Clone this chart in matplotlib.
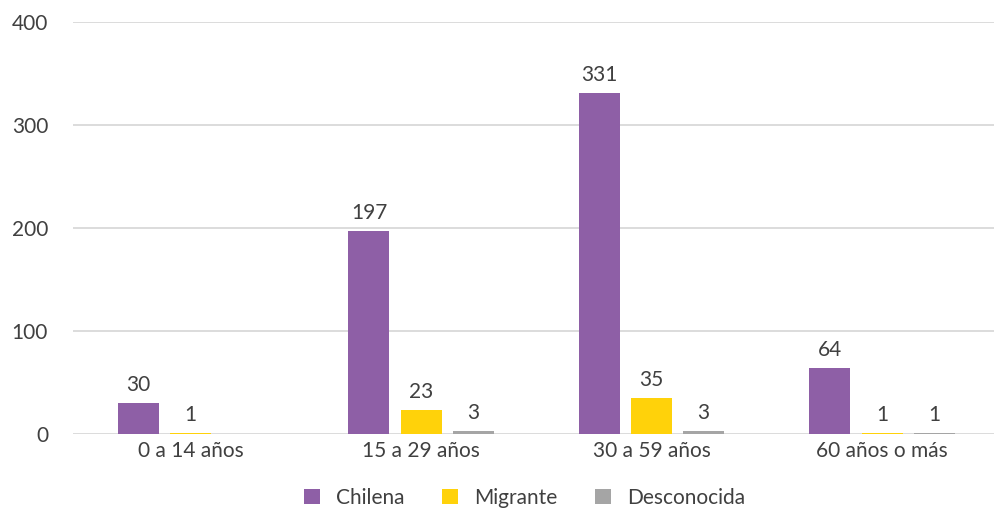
import numpy as np
import matplotlib.pyplot as plt

plt.rcParams['font.family'] = ['Lato', 'DejaVu Sans']

grupos = ['0 a 14 años', '15 a 29 años', '30 a 59 años', '60 años o más']
chilena = [30, 197, 331, 64]
migrante = [1, 23, 35, 1]
desconocida = [0, 3, 3, 1]
series = [('Chilena', chilena, '#8E5FA6'),
          ('Migrante', migrante, '#FFD20A'),
          ('Desconocida', desconocida, '#A5A5A5')]

fig = plt.figure(figsize=(9.95, 5.08), dpi=100)
ax = fig.add_axes([0.0734, 0.1457, 0.9266, 0.811])

x = np.arange(len(grupos))
w = 0.178
off = 0.226
for k, (name, vals, col) in enumerate(series):
    pos = x + (k - 1) * off + 0.01
    ax.bar(pos, vals, w, color=col, label=name, zorder=3)
    for p, v in zip(pos, vals):
        if v > 0:
            ax.text(p, v + 8, str(v), ha='center', va='bottom',
                    fontsize=15, color='#404040')

ax.set_xlim(-0.5, 3.5)
ax.set_ylim(0, 400)
ax.set_yticks([0, 100, 200, 300, 400])
ax.set_xticks(x + 0.01)
ax.set_xticklabels(grupos)
ax.grid(axis='y', color='#D9D9D9', lw=1.3, zorder=0)
for s in ax.spines.values():
    s.set_visible(False)
ax.tick_params(length=0, labelsize=15, labelcolor='#404040')
ax.tick_params(axis='y', pad=18)
ax.tick_params(axis='x', pad=5)

ax.legend(loc='lower center', bbox_to_anchor=(0.49, -0.215), ncol=3,
          frameon=False, fontsize=15, handlelength=0.75, handleheight=0.75,
          columnspacing=1.8, handletextpad=0.8, labelcolor='#404040',
          borderpad=0.2)

fig.savefig('out.png', dpi=100)
